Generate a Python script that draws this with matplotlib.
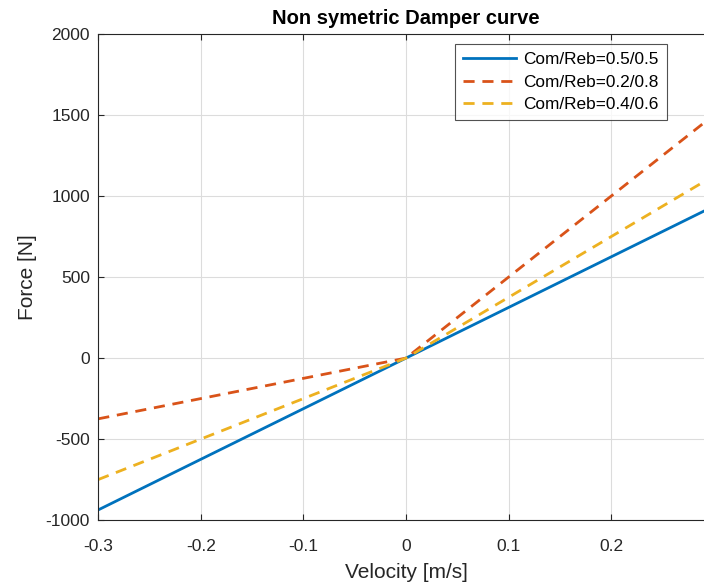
import matplotlib
matplotlib.use("Agg")
import matplotlib.pyplot as plt

plt.rcParams['font.family'] = ['Liberation Sans', 'DejaVu Sans']
plt.rcParams['axes.unicode_minus'] = False

velocity = [-0.3, 0.0, 0.3]
force_55 = [-937.5, 0.0, 937.5]
force_28 = [-375.0, 0.0, 1500.0]
force_46 = [-750.0, 0.0, 1125.0]
labels = ['Com/Reb=0.5/0.5', 'Com/Reb=0.2/0.8', 'Com/Reb=0.4/0.6']
xticks = [-0.3, -0.2, -0.1, 0, 0.1, 0.2, 0.3]
xticklabels = ['-0.3', '-0.2', '-0.1', '0', '0.1', '0.2', '']
yticks = [-1000, -500, 0, 500, 1000, 1500, 2000]

fig = plt.figure(figsize=(7.04, 5.87), dpi=100)
W, H = 704, 587
l, r, t, b = 98.3, 713.6, 34.3, 520.0
ax = fig.add_axes([l / W, (H - b) / H, (r - l) / W, (b - t) / H])

ax.plot(velocity, force_55, color='#0072BD', lw=2.0, label=labels[0])
ax.plot(velocity, force_28, color='#D95319', lw=2.0, ls=(0, (4, 2.8)), label=labels[1])
ax.plot(velocity, force_46, color='#EDB120', lw=2.0, ls=(0, (4, 2.8)), label=labels[2])

ax.set_xlim(-0.3, 0.3)
ax.set_ylim(-1000, 2000)
ax.set_xticks(xticks)
ax.set_xticklabels(xticklabels)
ax.set_yticks(yticks)
ax.grid(True, color='#dcdcdc', lw=0.8)
ax.set_axisbelow(True)
ax.tick_params(direction='in', top=True, right=True, labelsize=12.5,
               colors='#262626', length=4)
ax.tick_params(axis='x', pad=13.5)
ax.tick_params(axis='y', pad=6)
for s in ax.spines.values():
    s.set_color('#262626')
    s.set_linewidth(0.8)

ax.set_title('Non symetric Damper curve', fontsize=14.5, fontweight='bold',
             color='black', pad=7.5)
ax.set_xlabel('Velocity [m/s]', fontsize=15, color='#262626', labelpad=7)
ax.set_ylabel('Force [N]', fontsize=15, color='#262626', labelpad=6)

leg = ax.legend(loc='upper right', bbox_to_anchor=(0.9238, 0.980), fontsize=12.4,
                frameon=True, fancybox=False, edgecolor='#262626',
                borderpad=0.48, handlelength=3.1, labelspacing=0.42,
                borderaxespad=0, handletextpad=0.4)
leg.get_frame().set_linewidth(0.8)

fig.savefig('out.png', dpi=100)
